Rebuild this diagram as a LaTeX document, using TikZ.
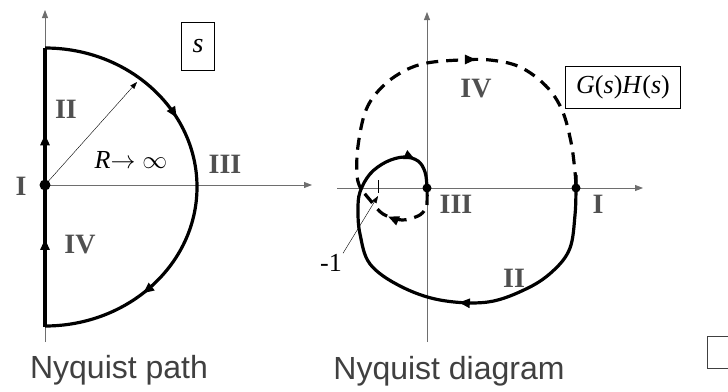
\documentclass[tikz,border=0pt]{standalone}
\usepackage{fontspec}
\setmainfont{Liberation Serif}
\setsansfont{Liberation Sans}
\usetikzlibrary{arrows.meta, decorations.markings}
\definecolor{axisgray}{HTML}{6E6E6E}
\definecolor{labgray}{HTML}{505050}
\definecolor{capgray}{HTML}{404040}

\begin{document}
\begin{tikzpicture}[
    x=1pt, y=-1pt,
    axis/.style={axisgray, line width=0.8pt, -{Triangle[length=8pt, width=6pt]}},
    curve/.style={black, line width=3.2pt},
    dashcurve/.style={curve, dash pattern=on 12pt off 8pt},
    midarr/.style={postaction={decorate, decoration={markings,
        mark=at position #1 with {\arrow{Triangle[length=11pt, width=9pt]}}}}},
    region/.style={labgray, font=\fontsize{28}{28}\selectfont\bfseries},
    framed/.style={draw, line width=0.9pt, inner sep=2pt},
    caption/.style={capgray, font=\fontsize{32}{32}\sffamily},
]
    \useasboundingbox (0,0) rectangle (728,391);

    % Nyquist path
    \coordinate (o1) at (45,185);
    \draw[axis] (45,342) -- (45,10);
    \draw[axis] (o1) -- (312,185);
    \draw[curve, midarr=0.62] (45,327) -- (o1);
    \draw[curve, midarr=0.37] (o1) -- (45,48);
    \draw[curve, midarr=0.34, midarr=0.77] (45,48)
        arc[start angle=-90, end angle=90, x radius=152, y radius=139];
    \draw[thin, -{Triangle[length=7pt, width=5pt]}] (o1) -- (137,82);
    \fill (o1) circle[radius=5.5];
    \node[region] (p1) at (21,186) {I};
    \node[region] (p2) at (66,109) {II};
    \node[region] (p3) at (225,164) {III};
    \node[region] (p4) at (80,245) {IV};
    \node[font=\fontsize{26}{26}\selectfont, inner sep=0pt] (rad) at (131,160)
        {\textit{R}$\rightarrow\infty$};
    \node[framed, minimum width=33, minimum height=48,
          font=\fontsize{28}{28}\selectfont\itshape] (sbox) at (198,46) {s};
    \node[caption] (cap1) at (119,370) {Nyquist path};

    % Nyquist diagram
    \coordinate (o2) at (427,188);
    \coordinate (w0) at (576,188);
    \draw[axis] (427,342) -- (427,12);
    \draw[axis] (337,188) -- (643,188);
    \draw[curve, midarr=0.41, midarr=0.9] plot[smooth, tension=0.6] coordinates {
        (576,175) (w0) (575,215) (570,248) (554,270) (528,288) (488,302)
        (440,300) (400,286) (370,264) (360,234) (358,210) (360,192)
        (370,174) (386,162) (404,157) (418,161) (425,172) (o2) (427,205)};
    \draw[dashcurve, midarr=0.5] plot[smooth, tension=0.6] coordinates {
        (424,211) (418,216) (402,220) (383,214) (370,200) (361,189)};
    \draw[dashcurve, midarr=0.53] plot[smooth, tension=0.6] coordinates {
        (361,189) (357,176) (358,146) (366,110) (382,87) (404,71) (427,63)
        (460,60) (490,60) (520,67) (546,86) (562,110) (571,142) (575,172) (w0)};
    \fill (o2) circle[radius=4.5];
    \fill (w0) circle[radius=4.5];
    \coordinate (m1) at (378,196);
    \draw[thin] (378,180) -- (378,193);
    \node[font=\fontsize{26}{26}\selectfont, inner sep=1pt] (minus1) at (331,263) {-1};
    \draw[thin, -{Triangle[length=7pt, width=5pt]}] (minus1.north east) -- (m1);
    \node[region] (q1) at (598,204) {I};
    \node[region] (q2) at (514,278) {II};
    \node[region] (q3) at (456,204) {III};
    \node[region] (q4) at (476,89) {IV};
    \node[framed, minimum width=115, minimum height=42,
          font=\fontsize{26}{26}\selectfont] (gh) at (623,87)
          {\textit{G}(\textit{s})\textit{H}(\textit{s})};
    \node[caption] (cap2) at (449,371) {Nyquist diagram};

    % cut-off box
    \draw[capgray, line width=1pt] (729,336) -| (707,368) -- (729,368);
\end{tikzpicture}
\end{document}
